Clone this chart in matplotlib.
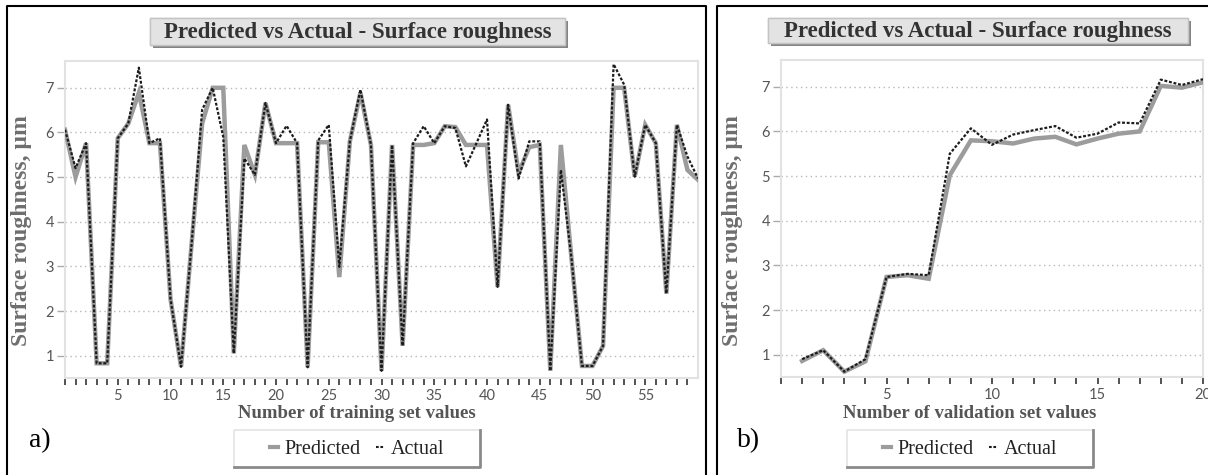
import numpy as np
import matplotlib
matplotlib.use('Agg')
import matplotlib.pyplot as plt
from matplotlib.patches import Rectangle
from matplotlib.lines import Line2D
from matplotlib import patheffects

# training set (panel a)
train_x = list(range(0, 61))
train_pred = [6.06, 5.0, 5.76, 0.83, 0.83, 5.87, 6.2, 6.89, 5.76, 5.76,
              2.27, 0.75, 3.5, 6.2, 7.0, 7.0, 1.05, 5.72, 5.05, 6.66,
              5.76, 5.76, 5.76, 0.74, 5.78, 5.78, 2.76, 5.8, 6.89, 5.72,
              0.66, 5.72, 1.22, 5.72, 5.72, 5.76, 6.14, 6.12, 5.72, 5.72,
              5.72, 2.54, 6.62, 5.09, 5.67, 5.72, 0.66, 5.72, 3.2, 0.77,
              0.77, 1.22, 7.0, 7.0, 5.01, 6.17, 5.76, 2.39, 6.17, 5.16, 4.94]
train_act = [6.06, 5.2, 5.76, 0.83, 0.83, 5.87, 6.2, 7.45, 5.76, 5.87,
             2.27, 0.75, 3.5, 6.51, 7.0, 5.9, 1.05, 5.42, 5.05, 6.66,
             5.76, 6.15, 5.76, 0.74, 5.82, 6.17, 2.99, 5.8, 6.96, 5.72,
             0.66, 5.72, 1.22, 5.76, 6.14, 5.76, 6.14, 6.1, 5.24, 5.76,
             6.29, 2.54, 6.62, 4.97, 5.8, 5.8, 0.66, 5.16, 3.2, 0.77,
             0.77, 1.22, 7.53, 7.07, 5.01, 6.17, 5.76, 2.39, 6.17, 5.46, 4.97]

# validation set (panel b)
val_x = list(range(1, 21))
val_pred = [0.86, 1.1, 0.62, 0.85, 2.74, 2.78, 2.7, 5.02, 5.8, 5.78,
            5.73, 5.84, 5.88, 5.71, 5.84, 5.95, 6.0, 7.02, 6.98, 7.1]
val_act = [0.9, 1.1, 0.62, 0.9, 2.74, 2.81, 2.78, 5.5, 6.07, 5.7,
           5.93, 6.03, 6.12, 5.86, 5.95, 6.2, 6.18, 7.16, 7.04, 7.17]

title = 'Predicted vs Actual - Surface roughness'
ylab = 'Surface roughness, µm'

W, H = 1208, 475
fig = plt.figure(figsize=(W / 100, H / 100), dpi=100)


def fx(px):
    return px / W


def fy(py):
    return (H - py) / H


serif = 'Liberation Serif'


def panel(rect, xs, pred, act, xlim, xticks, xlabels, xlab, title_box, cx, tag_x, tag):
    ax = fig.add_axes(rect)
    ax.plot(xs, pred, color='#9c9c9c', lw=3.2, solid_joinstyle='miter', zorder=3)
    ax.plot(xs, act, color='#1c1c1c', lw=1.6, ls=(0, (1.3, 0.8)), zorder=4)
    ax.set_xlim(*xlim)
    ax.set_ylim(0.5, 7.6)
    ax.set_yticks([1, 2, 3, 4, 5, 6, 7])
    ax.set_xticks(xticks)
    ax.set_xticklabels(xlabels)
    ax.grid(axis='y', color='#b8b8b8', lw=1.0, ls=(0, (1, 2.5)))
    for s in ax.spines.values():
        s.set_color('#e2e2e2')
        s.set_linewidth(1.5)
    ax.tick_params(axis='x', direction='out', length=5, width=1.3, color='#444444',
                   pad=3, labelsize=10.5, labelcolor='#555555')
    ax.tick_params(axis='y', direction='out', length=6, width=1, color='#aaaaaa',
                   pad=2, labelsize=10.5, labelcolor='#555555')
    for lab in ax.get_xticklabels() + ax.get_yticklabels():
        lab.set_fontfamily('Lato')

    # title with grey box and shadow
    x0, x1, y0, y1 = title_box
    box = Rectangle((fx(x0), fy(y1)), fx(x1) - fx(x0), fy(y0) - fy(y1),
                    transform=fig.transFigure, fc='#e3e3e3', ec='#c4c4c4', lw=1)
    box.set_path_effects([patheffects.withSimplePatchShadow(offset=(2, -2),
                                                            shadow_rgbFace='#777777', alpha=0.9),
                          patheffects.Normal()])
    fig.add_artist(box)
    fig.text(fx((x0 + x1) / 2), fy((y0 + y1) / 2 + 1), title, ha='center', va='center',
             family=serif, weight='bold', fontsize=16.5, color='#333333')

    # axis labels
    fig.text(fx(cx), fy(414), xlab, ha='center', va='center', family=serif,
             weight='bold', fontsize=13.5, color='#555555')
    left_px = rect[0] * W
    fig.text(fx(left_px - (43 if tag == 'a)' else 49)), fy(231), ylab,
             rotation=90, ha='center', va='center', family=serif, weight='bold',
             fontsize=17, color='#6e6e6e')

    # legend
    h1 = Line2D([], [], color='#9c9c9c', lw=3)
    h2 = Line2D([], [], color='#1c1c1c', lw=1.5, ls=(0, (1.3, 0.8)))
    leg = fig.legend([h1, h2], ['Predicted', 'Actual'], loc='center',
                     bbox_to_anchor=(fx(cx), fy(449)), ncol=2, frameon=False,
                     prop={'family': serif, 'size': 14.5}, handlelength=0.4,
                     handletextpad=0.3, columnspacing=0.8)
    for t in leg.get_texts():
        t.set_color('#222222')
    lx0, lx1, ly0, ly1 = cx - 123, cx + 123, 430, 467
    fig.add_artist(Line2D([fx(lx0), fx(lx0), fx(lx1)], [fy(ly1), fy(ly0), fy(ly0)],
                          transform=fig.transFigure, color='#e4e4e4', lw=1.2))
    fig.add_artist(Line2D([fx(lx0), fx(lx1), fx(lx1)], [fy(ly1), fy(ly1), fy(ly0)],
                          transform=fig.transFigure, color='#8a8a8a', lw=2))

    fig.text(fx(tag_x), fy(441), tag, ha='left', va='center',
             family=serif, fontsize=20, color='black')
    return ax


panel([fx(65), fy(378), fx(698) - fx(65), (378 - 61) / H],
      train_x, train_pred, train_act, (0, 60), list(range(0, 60)),
      [str(i) if i % 5 == 0 and i > 0 else '' for i in range(0, 60)],
      'Number of training set values', (150, 565, 18, 45), 357, 29, 'a)')

panel([fx(781), fy(377), fx(1203) - fx(781), (377 - 60) / H],
      val_x, val_pred, val_act, (0, 20), list(range(0, 21)),
      [str(i) if i % 5 == 0 and i > 0 else '' for i in range(0, 21)],
      'Number of validation set values', (768, 1188, 18, 43), 970, 737, 'b)')

# panel frames
for xs_, ys_ in [([7, 7, 706, 706], [475, 6, 6, 475]), ([717, 717, 1208], [475, 6, 6])]:
    fig.add_artist(Line2D([fx(v) for v in xs_], [fy(v) for v in ys_],
                          transform=fig.transFigure, color='black', lw=1.5))

fig.savefig('out.png', dpi=100)
